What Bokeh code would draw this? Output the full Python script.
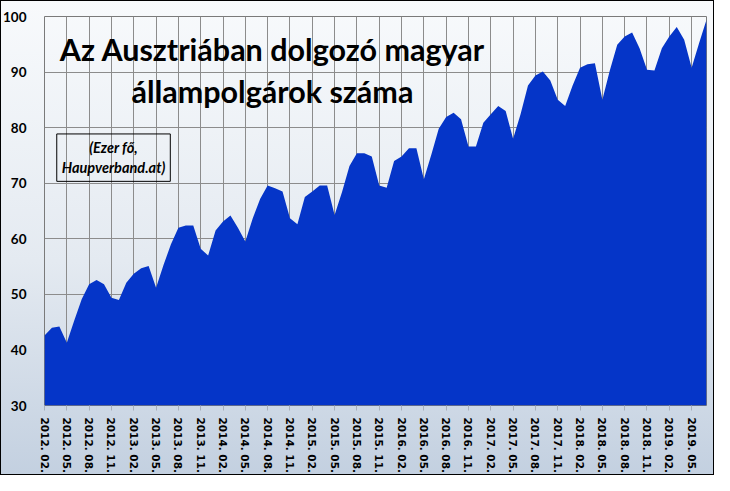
from bokeh.plotting import figure
from bokeh.models import Range1d, FixedTicker, Label
from bokeh.embed import file_html
from bokeh.resources import INLINE

# Monthly values (thousand persons), 2012.02 - 2019.07
v2012 = [42.6, 44.0, 44.2, 41.3, 45.3, 49.1, 51.8, 52.6, 51.8, 49.4, 49.0]          # Feb-Dec
v2013 = [52.1, 53.7, 54.7, 55.1, 51.2, 55.3, 59.0, 62.0, 62.4, 62.4, 58.2, 57.0]
v2014 = [61.5, 63.1, 64.2, 62.0, 59.5, 63.7, 67.2, 69.6, 69.1, 68.5, 63.7, 62.6]
v2015 = [67.5, 68.5, 69.6, 69.6, 64.3, 68.4, 73.1, 75.4, 75.4, 74.8, 69.6, 69.2]
v2016 = [74.0, 74.8, 76.3, 76.3, 70.7, 75.1, 79.8, 81.9, 82.7, 81.5, 76.6, 76.6]
v2017 = [80.9, 82.4, 83.9, 83.0, 78.0, 82.4, 87.6, 89.4, 90.1, 88.5, 85.0, 83.9]
v2018 = [87.6, 90.8, 91.4, 91.6, 85.0, 90.3, 94.9, 96.4, 97.1, 94.3, 90.4, 90.3]
v2019 = [94.3, 96.4, 98.1, 95.8, 90.8, 95.2, 99.4]                                   # Jan-Jul

years = [2012, 2013, 2014, 2015, 2016, 2017, 2018, 2019]
year_values = [v2012, v2013, v2014, v2015, v2016, v2017, v2018, v2019]
start_month = {2012: 2}

y_ticks = [30, 40, 50, 60, 70, 80, 90, 100]
title_line1 = "Az Ausztriában dolgozó magyar"
title_line2 = "állampolgárok száma"
note_text = "(Ezer fő,\nHaupverband.at)"

categories = []
values = []
for yr, vals in zip(years, year_values):
    m0 = start_month.get(yr, 1)
    for k, v in enumerate(vals):
        categories.append(f"{yr}. {m0 + k:02d}.")
        values.append(v)

xs = list(range(len(values)))
tick_idx = list(range(0, len(values), 3))
tick_labels = {i: categories[i] for i in tick_idx}

p = figure(width=714, height=475,
           x_range=Range1d(0, len(values) - 1), y_range=Range1d(30, 100),
           output_backend="svg", toolbar_location=None,
           min_border_left=44, min_border_right=8, min_border_top=16, min_border_bottom=66)

p.border_fill_color = None
p.background_fill_color = None
p.styles = {"background": "linear-gradient(to bottom, #f8fafc 0%, #e4eaf1 55%, #c3d0e0 100%)",
            "outline": "1px solid #000000", "outline-offset": "-1px"}
p.outline_line_color = "#7a7a7a"
p.outline_line_width = 1

p.varea(x=xs, y1=30, y2=values, fill_color="#0535c8", fill_alpha=1.0)

# grids
p.xgrid.ticker = FixedTicker(ticks=tick_idx)
p.ygrid.ticker = FixedTicker(ticks=y_ticks)
p.grid.grid_line_color = "#8c8c8c"
p.grid.grid_line_width = 1
p.grid.grid_line_alpha = 1.0

# y axis
p.yaxis.ticker = FixedTicker(ticks=y_ticks)
p.yaxis.axis_line_color = None
p.yaxis.major_tick_line_color = None
p.yaxis.minor_tick_line_color = None
p.yaxis.major_label_text_font = "Lato"
p.yaxis.major_label_text_font_style = "bold"
p.yaxis.major_label_text_font_size = "13.5px"
p.yaxis.major_label_text_color = "#000000"
p.yaxis.major_label_standoff = 12

# x axis
p.xaxis.ticker = FixedTicker(ticks=tick_idx)
p.xaxis.major_label_overrides = tick_labels
p.xaxis.axis_line_color = None
p.xaxis.major_tick_in = 0
p.xaxis.major_tick_out = 5
p.xaxis.major_tick_line_color = "#a8b0bc"
p.xaxis.minor_tick_line_color = None
p.xaxis.major_label_orientation = "vertical"
p.xaxis.major_label_text_font = "DejaVu Sans"
p.xaxis.major_label_text_font_style = "bold"
p.xaxis.major_label_text_font_size = "10.5px"
p.xaxis.major_label_text_color = "#000000"
p.xaxis.major_label_standoff = 7

# title
for txt, yy in ((title_line1, 94.1), (title_line2, 86.6)):
    p.add_layout(Label(x=30.65, y=yy, text=txt, text_align="center", text_baseline="middle",
                       text_font="Lato", text_font_style="bold", text_font_size="30.5px",
                       text_color="#000000"))

# note box
p.add_layout(Label(x=9.28, y=74.6, text=note_text, text_align="center", text_baseline="middle",
                   text_font="Lato", text_font_style="bold italic", text_font_size="14.5px",
                   text_color="#000000", border_line_color="#000000", border_line_width=1,
                   background_fill_color=None, padding=5))

open("out.html", "w").write(file_html(p, INLINE))
